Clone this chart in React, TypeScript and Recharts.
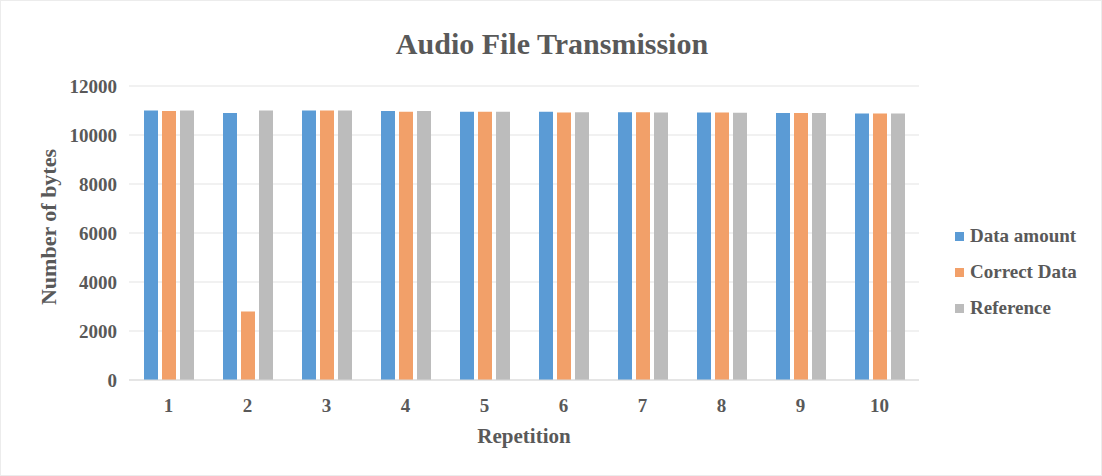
import React from "react";
import {
  BarChart,
  Bar,
  XAxis,
  YAxis,
  CartesianGrid,
} from "recharts";

const repetitions = ["1", "2", "3", "4", "5", "6", "7", "8", "9", "10"];
const dataAmount = [11000, 10900, 11000, 10980, 10950, 10950, 10930, 10920, 10900, 10880];
const correctData = [10980, 2800, 11000, 10950, 10950, 10920, 10930, 10920, 10900, 10880];
const reference = [11000, 11000, 11000, 10980, 10950, 10930, 10920, 10910, 10900, 10880];
const yTicks = [0, 2000, 4000, 6000, 8000, 10000, 12000];

const SERIES = [
  { key: "dataAmount", name: "Data amount", color: "#5b9bd5" },
  { key: "correctData", name: "Correct Data", color: "#f2a069" },
  { key: "reference", name: "Reference", color: "#bcbcbc" },
];

const FONT = '"Liberation Serif", "Times New Roman", serif';
const TEXT = "#595959";

const data = repetitions.map((r, i) => ({
  rep: r,
  dataAmount: dataAmount[i],
  correctData: correctData[i],
  reference: reference[i],
}));

function LegendBox() {
  return (
    <div
      style={{
        position: "absolute",
        left: 954,
        top: 217,
        fontFamily: FONT,
        fontWeight: "bold",
        fontSize: 19,
        color: TEXT,
      }}
    >
      {SERIES.map((s) => (
        <div
          key={s.key}
          style={{ display: "flex", alignItems: "center", height: 36, whiteSpace: "nowrap" }}
        >
          <span
            style={{
              width: 9,
              height: 9,
              background: s.color,
              marginRight: 6,
              display: "inline-block",
            }}
          />
          {s.name}
        </div>
      ))}
    </div>
  );
}

export default function App() {
  return (
    <div
      style={{
        position: "absolute",
        left: 0,
        top: 0,
        width: 1102,
        height: 476,
        background: "#fff",
        boxSizing: "border-box",
        border: "1px solid #ececec",
      }}
    >
      <div
        style={{
          position: "absolute",
          left: 0,
          width: 1102,
          top: 26,
          textAlign: "center",
          fontFamily: FONT,
          fontWeight: "bold",
          fontSize: 30,
          color: TEXT,
        }}
      >
        Audio File Transmission
      </div>
      <BarChart
        width={1102}
        height={476}
        data={data}
        margin={{ top: 85, right: 184, bottom: 30, left: 38 }}
        barCategoryGap={15}
        barGap={4}
      >
        <CartesianGrid vertical={false} stroke="#e3e3e3" />
        <XAxis
          dataKey="rep"
          height={67}
          axisLine={{ stroke: "#d9d9d9" }}
          tickLine={false}
          tickSize={0}
          tickMargin={19}
          tick={{ fill: TEXT, fontFamily: FONT, fontWeight: "bold", fontSize: 19 }}
          label={{
            value: "Repetition",
            position: "insideBottom",
            offset: 4,
            fill: TEXT,
            fontFamily: FONT,
            fontWeight: "bold",
            fontSize: 21,
          }}
        />
        <YAxis
          width={90}
          domain={[0, 12000]}
          ticks={yTicks}
          axisLine={false}
          tickLine={false}
          tickSize={0}
          tickMargin={12}
          tick={{ fill: TEXT, fontFamily: FONT, fontWeight: "bold", fontSize: 19 }}
          label={({ viewBox }: any) => (
            <text
              x={viewBox.x + 9}
              y={viewBox.y + viewBox.height / 2 - 6}
              transform={`rotate(-90 ${viewBox.x + 9} ${viewBox.y + viewBox.height / 2 - 6})`}
              textAnchor="middle"
              dominantBaseline="central"
              fill={TEXT}
              fontFamily={FONT}
              fontWeight="bold"
              fontSize={22}
            >
              Number of bytes
            </text>
          )}
        />
        {SERIES.map((s) => (
          <Bar
            key={s.key}
            dataKey={s.key}
            name={s.name}
            fill={s.color}
            isAnimationActive={false}
          />
        ))}
      </BarChart>
      <LegendBox />
    </div>
  );
}
